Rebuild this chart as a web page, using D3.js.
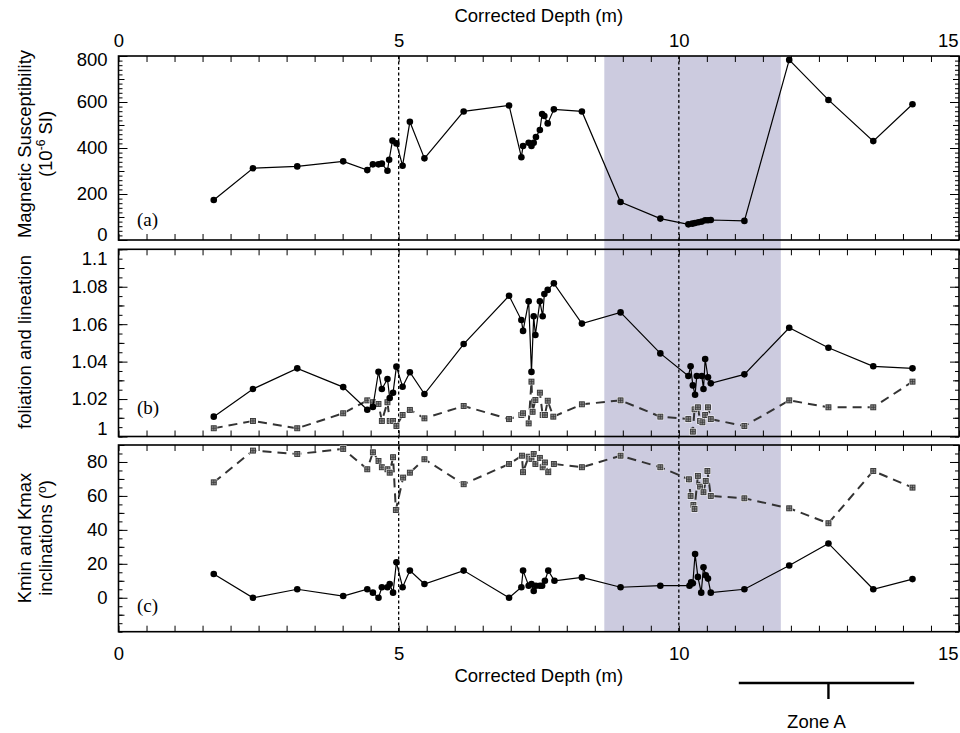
<!DOCTYPE html>
<html><head><meta charset="utf-8">
<script src="https://cdn.jsdelivr.net/npm/d3@7/dist/d3.min.js"></script>
<style>body{margin:0;background:#fff}svg{display:block;font-family:"Liberation Sans",Arial,sans-serif}</style>
</head><body><svg id="c" width="960" height="733"></svg>
<script>
// ---------- data ----------
const depthTickLabels = [0, 5, 10, 15];
const susTicks = [0, 200, 400, 600, 800];
const anisTicks = [1, 1.02, 1.04, 1.06, 1.08, 1.1];
const inclTicks = [0, 20, 40, 60, 80];

const susDepth = [1.70,2.40,3.19,4.01,4.44,4.54,4.64,4.70,4.80,4.83,4.89,4.96,5.07,5.20,5.46,6.16,6.97,7.19,7.22,7.32,7.37,7.41,7.45,7.52,7.56,7.60,7.66,7.77,8.27,8.96,9.67,10.17,10.24,10.29,10.35,10.41,10.47,10.52,10.57,11.17,11.97,12.67,13.47,14.17];
const susValue = [174,312,320,342,304,329,329,332,301,349,432,420,323,514,355,559,585,360,409,423,409,423,448,478,548,539,507,568,559,165,93,68,71,74,77,80,86,86,87,83,783,609,430,590];

const folDepth = [1.70,2.40,3.19,4.01,4.44,4.54,4.64,4.70,4.80,4.84,4.90,4.96,5.07,5.20,5.46,6.16,6.97,7.19,7.22,7.32,7.37,7.41,7.44,7.52,7.57,7.60,7.66,7.77,8.27,8.96,9.67,10.17,10.21,10.25,10.29,10.32,10.41,10.44,10.47,10.52,10.57,11.17,11.97,12.67,13.47,14.17];
const folValue = [1.0106,1.0254,1.0364,1.0264,1.0143,1.0158,1.0346,1.0254,1.0307,1.0206,1.0234,1.0373,1.0266,1.0343,1.0227,1.0494,1.0752,1.0622,1.0564,1.0722,1.0345,1.0642,1.0542,1.0722,1.0642,1.0761,1.0783,1.0818,1.0603,1.0663,1.0444,1.0323,1.0375,1.0273,1.0223,1.0323,1.0323,1.0254,1.0414,1.0316,1.0284,1.0332,1.0581,1.0474,1.0375,1.0364];

const linDepth = [1.70,2.40,3.19,4.01,4.44,4.54,4.64,4.70,4.80,4.84,4.90,4.96,5.07,5.20,5.46,6.16,6.97,7.19,7.22,7.32,7.37,7.39,7.44,7.52,7.57,7.61,7.66,7.76,8.27,8.96,9.67,10.17,10.25,10.28,10.34,10.38,10.42,10.47,10.52,10.57,11.17,11.97,12.67,13.47,14.17];
const linValue = [1.0044,1.0083,1.0044,1.0124,1.0193,1.0183,1.0174,1.0083,1.0183,1.0083,1.0083,1.0056,1.0115,1.0142,1.0097,1.0163,1.0093,1.0115,1.0124,1.007,1.0293,1.0132,1.0195,1.0234,1.0115,1.0115,1.0191,1.0106,1.0172,1.0193,1.0106,1.0093,1.0026,1.0145,1.0156,1.0083,1.0076,1.0115,1.0156,1.0093,1.0056,1.0193,1.0156,1.0156,1.0293];

const kmaxDepth = [1.70,2.40,3.19,4.01,4.44,4.54,4.64,4.70,4.80,4.84,4.90,4.96,5.07,5.20,5.46,6.16,6.97,7.19,7.22,7.32,7.37,7.41,7.45,7.52,7.56,7.61,7.67,7.78,8.27,8.96,9.67,10.19,10.22,10.25,10.29,10.34,10.40,10.44,10.48,10.52,10.57,11.17,11.97,12.67,13.47,14.17];
const kmaxIncl = [14,0,5,1,5,3,0,6.2,6.2,8.1,3,20.9,6.2,16,8.1,16,0,6.2,16,7.1,8.1,4,7.1,7.1,7.1,10,16,10,12,6.2,7.1,7.1,9.1,8.5,25.8,12.3,3,18,13.3,11.3,3,5,19,32,5,11];

const kminDepth = [1.70,2.40,3.19,4.01,4.44,4.54,4.64,4.70,4.80,4.84,4.90,4.95,5.08,5.20,5.46,6.16,6.97,7.20,7.22,7.32,7.37,7.41,7.44,7.52,7.57,7.61,7.67,7.77,8.27,8.96,9.67,10.18,10.21,10.26,10.28,10.34,10.38,10.44,10.48,10.51,10.57,11.17,11.97,12.67,13.47,14.17];
const kminIncl = [68,86.7,84.7,87.7,75.7,85.7,80.6,76.9,75.7,73.7,82.8,51.7,70.8,73.7,81.6,66.9,78.8,83.7,74,83.1,81.8,84.7,78.8,82.4,76.9,79.7,74,78.8,76.9,83.7,76.9,69.8,60,54.7,52.3,71.8,65.5,62.2,68.8,74.7,60,58.6,52.7,43.9,74.7,64.9];

const shadeRange = [8.67, 11.82];
const refLines = [5, 10];
const zoneA = {start: 11.07, end: 14.2, mid: 12.67, label: "Zone A"};

// ---------- drawing ----------
const FONT = '"Liberation Sans", Arial, sans-serif';
const FS = 18.5;
const svg = d3.select("#c");
const X0 = 118.5, X1 = 959;
const x = d3.scaleLinear().domain([0, 15]).range([X0, X1]);
const TOP = 56, BOTTOM = 632;

svg.append("rect").attr("x", x(shadeRange[0])).attr("y", TOP)
  .attr("width", x(shadeRange[1]) - x(shadeRange[0])).attr("height", BOTTOM - TOP)
  .attr("fill", "#cccbdf");

const panels = [
  {y: d3.scaleLinear().domain([0, 800]).range([240, 56]), major: susTicks, medium: d3.range(100, 800, 200), minor: d3.range(0, 801, 20), fmt: d => d, shift: {0: -5, 800: 4}, tag: "(a)", tagY: 226},
  {y: d3.scaleLinear().domain([1, 1.1]).range([436.5, 249.3]), major: anisTicks, medium: [1.01,1.03,1.05,1.07,1.09], minor: d3.range(0, 21).map(i => 1 + i * 0.005), fmt: d => String(d), shift: {1: -8, 1.1: 9}, tag: "(b)", tagY: 414},
  {y: d3.scaleLinear().domain([-20, 90]).range([631.7, 445]), major: inclTicks, medium: [-10,10,30,50,70,90], minor: d3.range(-20, 91, 5), fmt: d => d, shift: {}, tag: "(c)", tagY: 612}
];

const xTicks = d3.range(0, 30.5).map(i => i * 0.5);

function clean(g) { g.select(".domain").remove(); g.selectAll("line").attr("stroke", "#000").attr("stroke-width", 1); }

panels.forEach((p, i) => {
  const y = p.y;
  const [yb, yt] = y.range();
  const g = svg.append("g");
  // left
  g.append("g").attr("transform", `translate(${X0},0)`).call(d3.axisLeft(y).tickValues(p.minor).tickSizeInner(-4).tickSizeOuter(0).tickFormat("")).call(clean);
  g.append("g").attr("transform", `translate(${X0},0)`).call(d3.axisLeft(y).tickValues(p.medium).tickSizeInner(-6).tickSizeOuter(0).tickFormat("")).call(clean);
  const la = g.append("g").attr("transform", `translate(${X0},0)`).call(d3.axisLeft(y).tickValues(p.major).tickSizeInner(-9).tickSizeOuter(0).tickPadding(11).tickFormat(p.fmt)).call(clean);
  la.selectAll("text").attr("font-size", FS).attr("font-family", FONT).attr("fill", "#000")
    .attr("transform", d => p.shift[d] ? `translate(0,${p.shift[d]})` : null);
  // right
  g.append("g").attr("transform", `translate(${X1},0)`).call(d3.axisRight(y).tickValues(p.minor).tickSizeInner(-4).tickSizeOuter(0).tickFormat("")).call(clean);
  g.append("g").attr("transform", `translate(${X1},0)`).call(d3.axisRight(y).tickValues(p.medium).tickSizeInner(-6).tickSizeOuter(0).tickFormat("")).call(clean);
  g.append("g").attr("transform", `translate(${X1},0)`).call(d3.axisRight(y).tickValues(p.major).tickSizeInner(-9).tickSizeOuter(0).tickFormat("")).call(clean);
  // top / bottom
  g.append("g").attr("transform", `translate(0,${yt})`).call(d3.axisTop(x).tickValues(xTicks).tickSizeInner(-6).tickSizeOuter(0).tickFormat("")).call(clean);
  g.append("g").attr("transform", `translate(0,${yb})`).call(d3.axisBottom(x).tickValues(xTicks).tickSizeInner(-6).tickSizeOuter(0).tickFormat("")).call(clean);
  // frame
  g.append("rect").attr("x", X0).attr("y", yt).attr("width", X1 - X0).attr("height", yb - yt)
    .attr("fill", "none").attr("stroke", "#000").attr("stroke-width", 1.6);
  // tag
  g.append("text").attr("x", 137).attr("y", p.tagY).attr("font-family", '"Liberation Serif","Times New Roman",serif')
    .attr("font-size", 19).text(p.tag);
});

// top & bottom depth labels (last label anchored at its end so it stays inside the page)
function styleDepthLabels(sel) {
  sel.selectAll("text").attr("font-size", FS).attr("font-family", FONT).attr("fill", "#000")
    .attr("text-anchor", d => d === 15 ? "end" : "middle")
    .attr("dx", d => d === 15 ? -1 : 0);
}
const ta = svg.append("g").attr("transform", `translate(0,${TOP})`)
  .call(d3.axisTop(x).tickValues(depthTickLabels).tickSize(0).tickPadding(9)).call(clean);
styleDepthLabels(ta);
const ba = svg.append("g").attr("transform", `translate(0,${BOTTOM})`)
  .call(d3.axisBottom(x).tickValues(depthTickLabels).tickSize(0).tickPadding(15)).call(clean);
styleDepthLabels(ba);

svg.append("text").attr("x", x(7.5)).attr("y", 22).attr("text-anchor", "middle").attr("font-size", FS).text("Corrected Depth (m)");
svg.append("text").attr("x", x(7.5)).attr("y", 682).attr("text-anchor", "middle").attr("font-size", FS).text("Corrected Depth (m)");

// reference dashed verticals
refLines.forEach(v => {
  svg.append("line").attr("x1", x(v)).attr("x2", x(v)).attr("y1", TOP).attr("y2", BOTTOM)
    .attr("stroke", "#000").attr("stroke-width", 1.3).attr("stroke-dasharray", "3,2.5");
});

// y titles
function vtext(cx, cy, fn) {
  const t = svg.append("text").attr("transform", `translate(${cx},${cy}) rotate(-90)`)
    .attr("text-anchor", "middle").attr("font-size", FS).attr("dy", "0.35em");
  fn(t);
}
vtext(25, 144, t => t.text("Magnetic Susceptibility"));
vtext(46, 144, t => {
  t.append("tspan").text("(10");
  t.append("tspan").attr("font-size", 12).attr("dy", -7).text("-6");
  t.append("tspan").attr("dy", 7).text(" SI)");
});
vtext(25, 342, t => t.text("foliation and lineation"));
vtext(25, 538, t => t.text("Kmin and Kmax"));
vtext(46, 538, t => {
  t.append("tspan").text("inclinations (");
  t.append("tspan").attr("font-size", 12).attr("dy", -6).text("o");
  t.append("tspan").attr("dy", 6).text(")");
});

// series
function solid(depth, vals, y) {
  const data = d3.zip(depth, vals);
  svg.append("path").datum(data).attr("fill", "none").attr("stroke", "#000").attr("stroke-width", 1.2)
    .attr("d", d3.line().x(d => x(d[0])).y(d => y(d[1])));
  svg.append("g").selectAll("circle").data(data).join("circle")
    .attr("cx", d => x(d[0])).attr("cy", d => y(d[1])).attr("r", 3.3).attr("fill", "#000");
}
function dashed(depth, vals, y) {
  const data = d3.zip(depth, vals);
  svg.append("path").datum(data).attr("fill", "none").attr("stroke", "#333").attr("stroke-width", 2)
    .attr("stroke-dasharray", "9,6")
    .attr("d", d3.line().x(d => x(d[0])).y(d => y(d[1])));
  const m = svg.append("g").selectAll("g").data(data).join("g")
    .attr("transform", d => `translate(${x(d[0])},${y(d[1])})`);
  m.append("rect").attr("x", -3.5).attr("y", -3.5).attr("width", 7).attr("height", 7).attr("fill", "#fff");
  m.append("rect").attr("x", -2.5).attr("y", -2.5).attr("width", 5).attr("height", 5).attr("fill", "#888").attr("stroke", "#333").attr("stroke-width", 0.9);
  m.append("path").attr("d", "M-2.5,0H2.5M0,-2.5V2.5").attr("stroke", "#333").attr("stroke-width", 0.7);
}
solid(susDepth, susValue, panels[0].y);
dashed(linDepth, linValue, panels[1].y);
solid(folDepth, folValue, panels[1].y);
dashed(kminDepth, kminIncl, panels[2].y);
solid(kmaxDepth, kmaxIncl, panels[2].y);

// Zone A
svg.append("line").attr("x1", x(zoneA.start)).attr("x2", x(zoneA.end)).attr("y1", 683).attr("y2", 683)
  .attr("stroke", "#000").attr("stroke-width", 2.4);
svg.append("line").attr("x1", x(zoneA.mid)).attr("x2", x(zoneA.mid)).attr("y1", 683).attr("y2", 699)
  .attr("stroke", "#000").attr("stroke-width", 2.4);
svg.append("text").attr("x", x(zoneA.mid) - 12).attr("y", 728).attr("text-anchor", "middle").attr("font-size", FS).text(zoneA.label);
</script></body></html>
